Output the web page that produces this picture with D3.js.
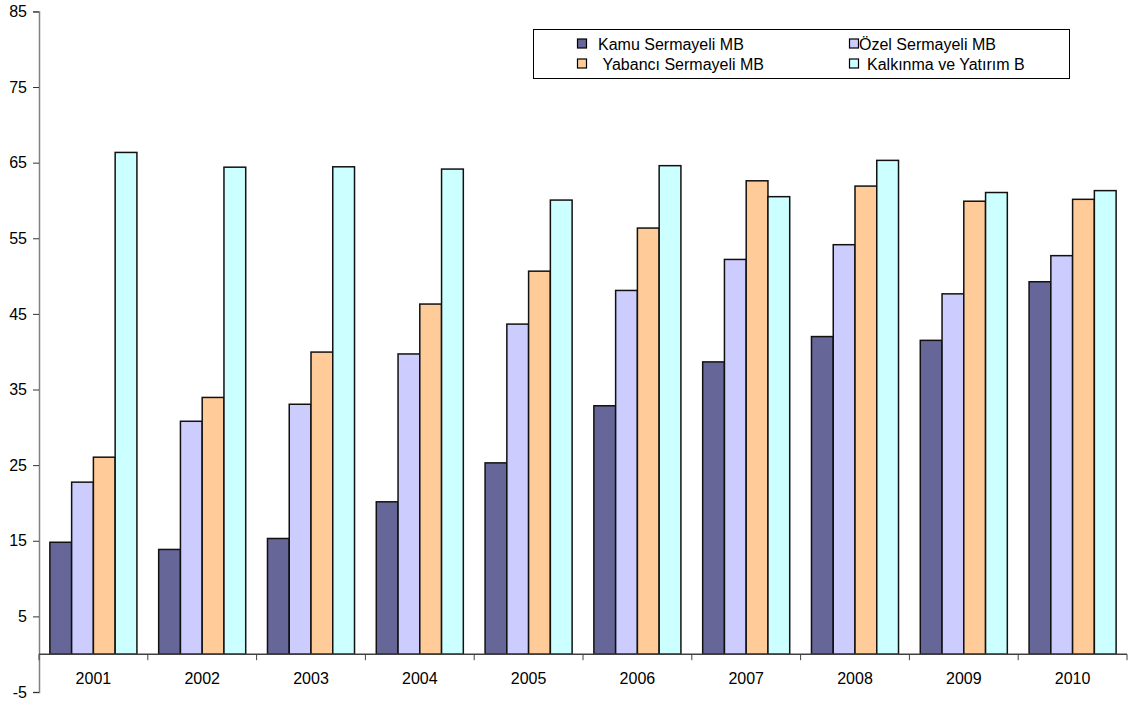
<!DOCTYPE html>
<html>
<head>
<meta charset="utf-8">
<script src="https://cdn.jsdelivr.net/npm/d3@7"></script>
<style>
  html, body { margin: 0; padding: 0; background: #fff; }
  svg { display: block; font-family: "Liberation Sans", Arial, sans-serif; }
</style>
</head>
<body>
<svg id="chart" width="1129" height="704"></svg>
<script>
// Years on the category axis
const years = ["2001", "2002", "2003", "2004", "2005", "2006", "2007", "2008", "2009", "2010"];

// Series names (legend order)
const seriesNames = ["Kamu Sermayeli MB", "Özel Sermayeli MB", "Yabancı Sermayeli MB", "Kalkınma ve Yatırım B"];

// Values per series, one per year
const kamu     = [14.8, 13.85, 15.3, 20.15, 25.3, 32.85, 38.65, 42.0, 41.5, 49.25];
const ozel     = [22.75, 30.8, 33.05, 39.7, 43.65, 48.1, 52.2, 54.15, 47.65, 52.7];
const yabanci  = [26.05, 33.95, 39.95, 46.3, 50.65, 56.35, 62.6, 61.9, 59.9, 60.15];
const kalkinma = [66.35, 64.4, 64.45, 64.15, 60.05, 64.6, 60.5, 65.3, 61.05, 61.3];

// Y axis tick values and their labels
const yTicks = [-5, 5, 15, 25, 35, 45, 55, 65, 75, 85];
const yTickLabels = ["-5", "5", "15", "25", "35", "45", "55", "65", "75", "85"];

const seriesValues = [kamu, ozel, yabanci, kalkinma];
const colors = ["#666699", "#CCCCFF", "#FFCC99", "#CCFFFF"];

const svg = d3.select("#chart");

const x0 = 39, x1 = 1127;
const y = d3.scaleLinear().domain([-5, 85]).range([692, 11.4]);
const x = d3.scaleBand().domain(years).range([x0, x1]).paddingInner(0).paddingOuter(0);
const bw = x.bandwidth();
const xs = d3.scaleBand().domain(d3.range(seriesNames.length)).range([bw * 0.1, bw * 0.9]);

// Bars
const groups = svg.append("g").selectAll("g")
  .data(years)
  .join("g")
  .attr("transform", d => `translate(${x(d)},0)`);

groups.selectAll("rect")
  .data((d, i) => seriesValues.map((vals, s) => ({ s, v: vals[i] })))
  .join("rect")
  .attr("x", d => xs(d.s))
  .attr("width", xs.bandwidth())
  .attr("y", d => y(Math.max(0, d.v)))
  .attr("height", d => Math.abs(y(d.v) - y(0)))
  .attr("fill", d => colors[d.s])
  .attr("stroke", "#111")
  .attr("stroke-width", 1.5);

// Y axis
const yAxis = d3.axisLeft(y)
  .tickValues(yTicks)
  .tickSize(6)
  .tickPadding(6)
  .tickFormat((d, i) => yTickLabels[i]);
const gy = svg.append("g").attr("transform", `translate(${x0},0)`).call(yAxis);
gy.select(".domain").attr("stroke", "#808080").attr("stroke-width", 1.5);
gy.selectAll(".tick line").attr("stroke", "#333");
gy.selectAll(".tick text").attr("font-size", 16).attr("fill", "#000")
  .attr("font-family", "'Liberation Sans', Arial, sans-serif");

// X axis (crossing at zero)
const gx = svg.append("g").attr("transform", `translate(0,${y(0)})`);
gx.append("line")
  .attr("x1", x0).attr("x2", x1).attr("y1", 0).attr("y2", 0)
  .attr("stroke", "#404040").attr("stroke-width", 1.5);
const boundaries = years.map(d => x(d)).concat([x1]);
gx.selectAll("line.tk")
  .data(boundaries)
  .join("line")
  .attr("class", "tk")
  .attr("x1", d => d).attr("x2", d => d)
  .attr("y1", 0).attr("y2", 6)
  .attr("stroke", "#404040").attr("stroke-width", 1);
gx.selectAll("text")
  .data(years)
  .join("text")
  .attr("x", d => x(d) + bw / 2)
  .attr("y", 30)
  .attr("text-anchor", "middle")
  .attr("font-size", 16)
  .attr("fill", "#000")
  .text(d => d);

// Legend
const legend = svg.append("g");
legend.append("rect")
  .attr("x", 533.5).attr("y", 29.5).attr("width", 536).attr("height", 49)
  .attr("fill", "#fff").attr("stroke", "#000").attr("stroke-width", 1);

const legendPos = [
  { sx: 577.5, tx: 598, cy: 44 },
  { sx: 849.5, tx: 859, cy: 44 },
  { sx: 577.5, tx: 598, cy: 64 },
  { sx: 849.5, tx: 867, cy: 64 }
];
const legendLabels = seriesNames.map((n, i) => i === 2 ? "\u00A0" + n : n);

const items = legend.selectAll("g.item")
  .data(seriesNames.map((n, i) => i))
  .join("g")
  .attr("class", "item");
items.append("rect")
  .attr("x", i => legendPos[i].sx)
  .attr("y", i => legendPos[i].cy - 5)
  .attr("width", 9).attr("height", 9)
  .attr("fill", i => colors[i])
  .attr("stroke", "#000").attr("stroke-width", 1.2);
items.append("text")
  .attr("x", i => legendPos[i].tx)
  .attr("y", i => legendPos[i].cy)
  .attr("dy", "0.35em")
  .attr("font-size", 16)
  .attr("fill", "#000")
  .text(i => legendLabels[i]);
</script>
</body>
</html>
